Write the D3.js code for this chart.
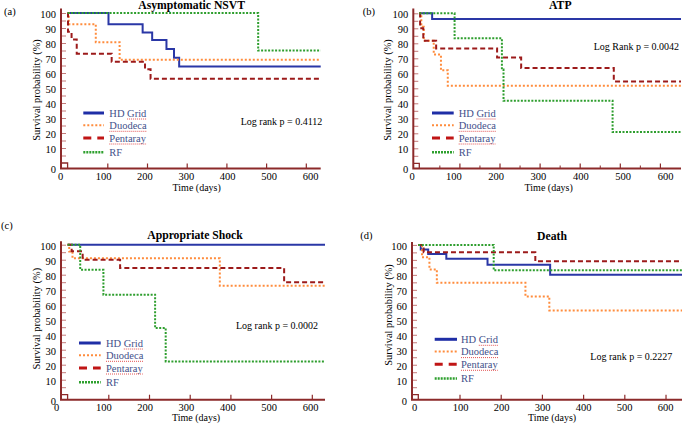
<!DOCTYPE html>
<html><head><meta charset="utf-8">
<script src="https://cdn.jsdelivr.net/npm/d3@7"></script>
<style>
body{margin:0;background:#fff}
svg{display:block}
text{font-family:"Liberation Serif","Times New Roman",serif}
</style>
</head><body>
<svg id="c" width="684" height="424"></svg>
<script>
// ---------- data ----------
const seriesNames = ["HD Grid", "Duodeca", "Pentaray", "RF"];
const xTickValues = [100, 200, 300, 400, 500, 600];
const xMinorTickValues = [50, 150, 250, 350, 450, 550];
const xLabelValues = [0, 100, 200, 300, 400, 500, 600];
const yTickValues = [5,10,15,20,25,30,35,40,45,50,55,60,65,70,75,80,85,90,95,100];
const yLabelValues = [0, 10, 20, 30, 40, 50, 60, 70, 80, 90, 100];
const panelTags = ["(a)", "(b)", "(c)", "(d)"];
const panelTitles = ["Asymptomatic NSVT", "ATP", "Appropriate Shock", "Death"];
const logRankTexts = ["Log rank p = 0.4112", "Log Rank p = 0.0042", "Log rank p = 0.0002", "Log rank p = 0.2227"];
const xAxisTitle = "Time (days)";
const yAxisTitle = "Survival probability (%)";

// (a) Asymptomatic NSVT
const aHDTime = [0, 103, 189, 213, 249, 268, 281];
const aHDSurv = [100, 92.5, 87, 82, 76, 70.2, 64.3];
const aDuoTime = [0, 3, 71, 131];
const aDuoSurv = [100, 92.5, 80.5, 68.8];
const aPentaTime = [0, 1, 10, 23, 111, 195, 209];
const aPentaSurv = [100, 87.5, 82.3, 72.9, 67.5, 62.5, 56.2];
const aRFTime = [0, 480];
const aRFSurv = [100, 75];

// (b) ATP
const bHDTime = [0, 32];
const bHDSurv = [100, 96.2];
const bDuoTime = [0, 5, 11, 36, 54, 71];
const bDuoSurv = [100, 91, 81.7, 72.5, 62, 51.7];
const bPentaTime = [0, 2, 10, 42, 194, 254, 485];
const bPentaSurv = [100, 90, 81.7, 76.6, 70.5, 63.5, 54.5];
const bRFTime = [0, 88, 206, 210, 482];
const bRFSurv = [100, 83.3, 62.5, 41.7, 20.8];

// (c) Appropriate Shock
const cHDTime = [0];
const cHDSurv = [100];
const cDuoTime = [0, 4, 12, 374];
const cDuoSurv = [100, 95.5, 90.9, 72.7];
const cPentaTime = [0, 10, 37, 129, 532];
const cPentaSurv = [100, 95.6, 90, 84.5, 75];
const cRFTime = [0, 31, 88, 215, 241];
const cRFSurv = [100, 83.3, 66.7, 44.4, 22.2];

// (d) Death
const dHDTime = [0, 6, 24, 68, 168, 320];
const dHDSurv = [100, 96.9, 94, 90.7, 86.7, 80];
const dDuoTime = [0, 9, 27, 45, 260, 318];
const dDuoSurv = [100, 91.8, 83.6, 74.7, 65.6, 56.2];
const dPentaTime = [0, 13, 284];
const dPentaSurv = [100, 95.1, 89.1];
const dRFTime = [0, 183];
const dRFSurv = [100, 83];

// ---------- styles ----------
const axisColor = "#8c2a2a";
const tickColor = "#c47a7a";
const legendTextColor = "#43508a";
const lineStyles = [
  {color: "#2a37a6", dash: null, w: 2},
  {color: "#ff8c3c", dash: "2,2", w: 2},
  {color: "#9c1a1a", dash: "5,3", w: 2},
  {color: "#2e9e2e", dash: "2,1.5", w: 2}
];
const legendStyles = [
  {color: "#1f2ea6", dash: null, w: 3},
  {color: "#ff8c3c", dash: "2,2", w: 2},
  {color: "#c01515", dash: "8,6", w: 3},
  {color: "#2ea02e", dash: "2,1", w: 2.5}
];
const underlineFrom = [3, 0, 0, -1];

// ---------- layout ----------
const panels = [
  {series: [[aHDTime,aHDSurv],[aDuoTime,aDuoSurv],[aPentaTime,aPentaSurv],[aRFTime,aRFSurv]],
   yAxisX: 61, xAxisY: 168.5, axisTop: 8.5, x0: 67.6, xEnd: 320.7, xMax: 637.5, y0: 163, y100: 13,
   lab: [60, 103, 310], minor: false,
   tag: [4, 15], title: [191.7, 8.5], ylab: [37, 90], xlab: [196.7, 190.5], lr: [240.7, 125],
   leg: {x1: 83.3, x2: 104, tx: 109.3, y: 113}},
  {series: [[bHDTime,bHDSurv],[bDuoTime,bDuoSurv],[bPentaTime,bPentaSurv],[bRFTime,bRFSurv]],
   yAxisX: 413.3, xAxisY: 168.5, axisTop: 8.5, x0: 419.3, xEnd: 681, xMax: 652.6, y0: 163.3, y100: 13.3,
   lab: [411.7, 453.3, 665], minor: true,
   tag: [362.7, 15], title: [560.3, 9.3], ylab: [387.5, 90], xlab: [548.7, 190.5], lr: [593.7, 50],
   leg: {x1: 432, x2: 453.7, tx: 458.7, y: 113}},
  {series: [[cHDTime,cHDSurv],[cDuoTime,cDuoSurv],[cPentaTime,cPentaSurv],[cRFTime,cRFSurv]],
   yAxisX: 61, xAxisY: 399.7, axisTop: 241.3, x0: 67.6, xEnd: 325, xMax: 632.4, y0: 394.7, y100: 244.7,
   lab: [56, 103.3, 310], minor: false,
   tag: [1, 229], title: [195, 239], ylab: [36.7, 318.7], xlab: [196, 420.5], lr: [236, 328.5],
   leg: {x1: 79, x2: 100.7, tx: 106, y: 343}},
  {series: [[dHDTime,dHDSurv],[dDuoTime,dDuoSurv],[dPentaTime,dPentaSurv],[dRFTime,dRFSurv]],
   yAxisX: 412, xAxisY: 399.7, axisTop: 242, x0: 418.3, xEnd: 682, xMax: 640, y0: 394.7, y100: 244.9,
   lab: [414, 460, 665], minor: false,
   tag: [360.3, 239], title: [552, 240], ylab: [388.7, 315], xlab: [552, 420.5], lr: [590.3, 359.5],
   leg: {x1: 434.7, x2: 457, tx: 461, y: 339.3}}
];
const legendOffsets = [0, 12.3, 25, 39.3];

const svg = d3.select("#c");
svg.append("rect").attr("width", 684).attr("height", 424).attr("fill", "#fff");

panels.forEach((p, pi) => {
  const g = svg.append("g");
  const x = d3.scaleLinear().domain([0, p.xMax]).range([p.x0, p.xEnd]);
  const y = d3.scaleLinear().domain([0, 100]).range([p.y0, p.y100]);
  const xl = d3.scaleLinear().domain([0, 100, 600]).range(p.lab);
  const yl = d3.scaleLinear().domain([0, 10, 100]).range([p.xAxisY + 1, y(10) + 1, y(100) + 1]);

  // survival curves
  const line = d3.line().x(d => x(d[0])).y(d => y(d[1])).curve(d3.curveStepAfter);
  p.series.forEach((s, si) => {
    const pts = s[0].map((t, j) => [t, s[1][j]]);
    pts.push([p.xMax, s[1][s[1].length - 1]]);
    const st = lineStyles[si];
    g.append("path").attr("d", line(pts)).attr("fill", "none")
      .attr("stroke", st.color).attr("stroke-width", st.w)
      .attr("stroke-dasharray", st.dash);
  });

  // y ticks (inside)
  const yt = g.append("g").attr("transform", `translate(${p.yAxisX},0)`)
    .call(d3.axisRight(y).tickValues(yTickValues).tickSize(5).tickFormat(""));
  yt.select(".domain").remove();
  yt.selectAll("line").attr("stroke", tickColor).attr("stroke-width", 1);

  // y labels
  const ylab = g.append("g").attr("transform", `translate(${p.yAxisX},0)`)
    .call(d3.axisLeft(yl).tickValues(yLabelValues).tickSize(0).tickPadding(5).tickFormat(d3.format("d")));
  ylab.select(".domain").remove();
  ylab.selectAll("text").attr("font-size", 10.5).attr("fill", "#000");

  // x ticks (inside, upward)
  const xt = g.append("g").attr("transform", `translate(0,${p.xAxisY})`)
    .call(d3.axisTop(x).tickValues(xTickValues).tickSize(5).tickFormat(""));
  xt.select(".domain").remove();
  xt.selectAll("line").attr("stroke", axisColor).attr("stroke-width", 1.2);
  if (p.minor) {
    const xm = g.append("g").attr("transform", `translate(0,${p.xAxisY})`)
      .call(d3.axisTop(x).tickValues(xMinorTickValues).tickSize(3).tickFormat(""));
    xm.select(".domain").remove();
    xm.selectAll("line").attr("stroke", axisColor).attr("stroke-width", 1);
  }

  // x labels
  const xlab = g.append("g").attr("transform", `translate(0,${p.xAxisY})`)
    .call(d3.axisBottom(xl).tickValues(xLabelValues).tickSize(0).tickPadding(4).tickFormat(d3.format("d")));
  xlab.select(".domain").remove();
  xlab.selectAll("text").attr("font-size", 10.5).attr("fill", "#000");

  // axis lines
  g.append("path")
    .attr("d", `M${p.yAxisX},${p.axisTop}V${p.xAxisY}H${p.xEnd}`)
    .attr("fill", "none").attr("stroke", axisColor).attr("stroke-width", 2);
  // origin marker
  g.append("path")
    .attr("d", `M${p.yAxisX},${y(0)}H${x(0)}V${p.xAxisY}`)
    .attr("fill", "none").attr("stroke", axisColor).attr("stroke-width", 1.3);

  // texts
  g.append("text").attr("x", p.tag[0]).attr("y", p.tag[1]).attr("font-size", 10.5).text(panelTags[pi]);
  g.append("text").attr("x", p.title[0]).attr("y", p.title[1]).attr("font-size", 11.7)
    .attr("font-weight", "bold").attr("text-anchor", "middle").text(panelTitles[pi]);
  g.append("text").attr("transform", `translate(${p.ylab[0]},${p.ylab[1]}) rotate(-90)`)
    .attr("text-anchor", "middle").attr("dy", "0.33em").attr("font-size", 10.4).text(yAxisTitle);
  g.append("text").attr("x", p.xlab[0]).attr("y", p.xlab[1]).attr("text-anchor", "middle")
    .attr("font-size", 10).text(xAxisTitle);
  g.append("text").attr("x", p.lr[0]).attr("y", p.lr[1]).attr("font-size", 10).text(logRankTexts[pi]);

  // legend
  seriesNames.forEach((name, si) => {
    const ly = p.leg.y + legendOffsets[si];
    const st = legendStyles[si];
    g.append("line").attr("x1", p.leg.x1).attr("x2", p.leg.x2).attr("y1", ly).attr("y2", ly)
      .attr("stroke", st.color).attr("stroke-width", st.w).attr("stroke-dasharray", st.dash);
    const t = g.append("text").attr("x", p.leg.tx).attr("y", ly + 3.6).attr("font-size", 10.5)
      .attr("fill", legendTextColor).text(name);
    const from = underlineFrom[si];
    if (from >= 0) {
      const node = t.node();
      const off = from > 0 ? node.getSubStringLength(0, from) : 0;
      const len = node.getSubStringLength(from, name.length - from);
      g.append("line").attr("x1", p.leg.tx + off).attr("x2", p.leg.tx + off + len)
        .attr("y1", ly + 6).attr("y2", ly + 6)
        .attr("stroke", "#e04040").attr("stroke-width", 0.9).attr("stroke-dasharray", "1,1");
    }
  });
});
</script>
</body></html>
